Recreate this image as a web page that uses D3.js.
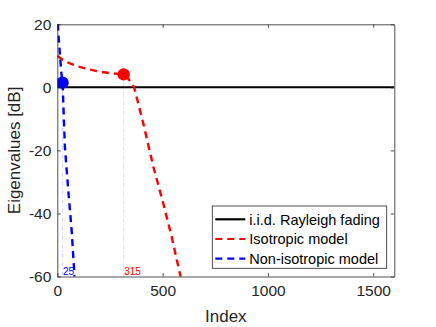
<!DOCTYPE html>
<html>
<head>
<meta charset="utf-8">
<script src="https://cdn.jsdelivr.net/npm/d3@7"></script>
<style>
  body { margin: 0; background: #fff; }
  svg text { font-family: "Liberation Sans", Arial, Helvetica, sans-serif; fill: #262626; }
</style>
</head>
<body>
<div id="chart"></div>
<script>
// datos
const iidIdx = [1, 1600];
const iidDb = [0, 0];

const isoIdx = [0, 20, 40, 60, 100, 150, 200, 250, 315, 340, 365, 408, 456, 503, 543, 585, 600];
const isoDb = [10, 9, 8.2, 7.6, 6.6, 5.7, 5.0, 4.5, 4.1, 2.5, 0, -11.4, -25.2, -36.8, -47.4, -60, -65];

const nonIsoIdx = [0, 5, 13, 20, 25, 36, 52, 68, 79, 82];
const nonIsoDb = [24, 17, 10, 4, 1.5, -18.9, -32.6, -45.3, -57, -62];

// puntos marcados y etiquetas
const markIdx = [25, 315];
const markDb = [1.5, 4.1];
const markLabels = ["25", "315"];
const markColors = ["#0000ff", "#ff0000"];

const xTicks = [0, 500, 1000, 1500];
const yTicks = [20, 0, -20, -40, -60];
const legendLabels = ["i.i.d. Rayleigh fading", "Isotropic model", "Non-isotropic model"];

const w = 436;
const h = 327;
const m = { left: 57.3, right: 436 - 394.3, top: 24.3, bottom: 327 - 276.5 };
const axisColor = "#262626";

const svg = d3.select("#chart").append("svg").attr("width", w).attr("height", h);

const x = d3.scaleLinear().domain([0, 1600]).range([m.left, w - m.right]);
const y = d3.scaleLinear().domain([-60, 20]).range([h - m.bottom, m.top]);

svg.append("clipPath").attr("id", "clip")
  .append("rect")
  .attr("x", x(0)).attr("y", y(20))
  .attr("width", x(1600) - x(0)).attr("height", y(-60) - y(20));

const plot = svg.append("g").attr("clip-path", "url(#clip)");

const line = d3.line().x((d) => x(d[0])).y((d) => y(d[1]));
const zip = (a, b) => a.map((v, i) => [v, b[i]]);

// líneas verticales de referencia
markIdx.forEach((v, i) => {
  plot.append("line")
    .attr("x1", x(v)).attr("x2", x(v))
    .attr("y1", y(markDb[i])).attr("y2", y(-60))
    .attr("stroke", markColors[i])
    .attr("stroke-opacity", 0.3)
    .attr("stroke-width", 0.6)
    .attr("stroke-dasharray", "4,2,1,2");
  svg.append("text")
    .attr("x", x(v) + 0.5)
    .attr("y", y(-60) - 1.5)
    .style("font-size", "10px")
    .style("fill", markColors[i])
    .text(markLabels[i]);
});

const series = [
  { data: zip(iidIdx, iidDb), color: "#000000", dash: null, width: 2 },
  { data: zip(isoIdx, isoDb), color: "#ff0000", dash: "7,5", width: 2.4 },
  { data: zip(nonIsoIdx, nonIsoDb), color: "#0000ff", dash: "7,5", width: 2.4 },
];

series.forEach((s) => {
  plot.append("path")
    .attr("d", line(s.data))
    .attr("fill", "none")
    .attr("stroke", s.color)
    .attr("stroke-width", s.width)
    .attr("stroke-dasharray", s.dash);
});

// marcadores
plot.selectAll("circle")
  .data(markIdx)
  .enter()
  .append("circle")
  .attr("cx", (d) => x(d))
  .attr("cy", (d, i) => y(markDb[i]))
  .attr("r", 6.2)
  .attr("fill", (d, i) => markColors[i]);

// ejes (ticks hacia dentro, caja completa)
const tl = 3.5;
const xAxis = d3.axisBottom(x).tickValues(xTicks).tickSizeInner(-tl).tickSizeOuter(0).tickPadding(8)
  .tickFormat((d) => String(d));
const yAxis = d3.axisLeft(y).tickValues(yTicks).tickSizeInner(-tl).tickSizeOuter(0).tickPadding(6)
  .tickFormat((d) => String(d));

const gx = svg.append("g").attr("transform", `translate(0,${y(-60)})`).call(xAxis);
const gy = svg.append("g").attr("transform", `translate(${x(0)},0)`).call(yAxis);
const gxt = svg.append("g").attr("transform", `translate(0,${y(20)})`)
  .call(d3.axisTop(x).tickValues(xTicks).tickSizeInner(-tl).tickSizeOuter(0).tickFormat(""));
const gyr = svg.append("g").attr("transform", `translate(${x(1600)},0)`)
  .call(d3.axisRight(y).tickValues(yTicks).tickSizeInner(-tl).tickSizeOuter(0).tickFormat(""));

[gx, gy, gxt, gyr].forEach((g) => {
  g.select(".domain").attr("stroke", axisColor).attr("stroke-width", 0.8);
  g.selectAll(".tick line").attr("stroke", axisColor).attr("stroke-width", 0.8);
  g.selectAll("text").style("font-size", "15.5px").style("font-family", null).attr("fill", axisColor);
});
gx.selectAll("text").attr("dy", "0.71em");

svg.append("text")
  .attr("x", (x(0) + x(1600)) / 2)
  .attr("y", 322)
  .attr("text-anchor", "middle")
  .style("font-size", "17px")
  .text("Index");

svg.append("text")
  .attr("transform", `translate(20,${(y(20) + y(-60)) / 2}) rotate(-90)`)
  .attr("text-anchor", "middle")
  .style("font-size", "17px")
  .text("Eigenvalues [dB]");

// leyenda
const lg = svg.append("g").attr("transform", "translate(212.3,206)");
lg.append("rect")
  .attr("width", 174.4).attr("height", 62.3)
  .attr("fill", "#fff").attr("stroke", axisColor).attr("stroke-width", 0.8);

legendLabels.forEach((lab, i) => {
  const s = series[i];
  const yy = 13.3 + i * 19.7;
  lg.append("line")
    .attr("x1", 3).attr("x2", 33).attr("y1", yy).attr("y2", yy)
    .attr("stroke", s.color).attr("stroke-width", 2.2)
    .attr("stroke-dasharray", s.dash ? "7,5" : null);
  lg.append("text")
    .attr("x", 37).attr("y", yy).attr("dy", "0.36em")
    .style("font-size", "14.5px")
    .style("fill", "#000")
    .text(lab);
});
</script>
</body>
</html>
